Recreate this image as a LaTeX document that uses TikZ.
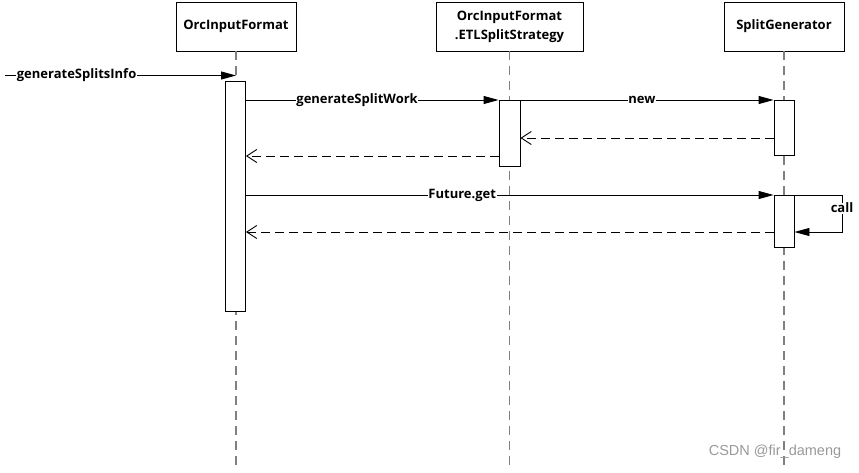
\documentclass[tikz,border=0pt]{standalone}
\usepackage{fontspec}
\setmainfont{Open Sans}
\newfontfamily\markfont{Liberation Sans}
\usepackage{tikz}
\usetikzlibrary{positioning}
\usetikzlibrary{arrows.meta,calc}

\begin{document}
\begin{tikzpicture}[x=1pt,y=-1pt,line width=0.9pt,
  font=\bfseries\fontsize{13}{19}\selectfont,
  obj/.style={draw,minimum height=49pt,align=center,inner sep=0pt},
  act/.style={draw,fill=white,minimum width=20pt,inner sep=0pt,anchor=north},
  life/.style={gray,line width=1.2pt,dash pattern=on 9pt off 6pt},
  msg/.style={-{Triangle[length=15pt,width=8pt]}},
  ret/.style={dash pattern=on 9pt off 5pt,-{Straight Barb[length=10pt,width=13pt,line width=0.9pt]}},
  lbl/.style={fill=white,inner sep=0.5pt}]
\useasboundingbox (0,0) rectangle (859,472);

% objects
\node[obj,minimum width=120pt] (oif) at (236,26.5) {OrcInputFormat};
\node[obj,minimum width=147pt] (etl) at (509.5,26.5) {OrcInputFormat\\.ETLSplitStrategy};
\node[obj,minimum width=120pt] (sg) at (784,26.5) {SplitGenerator};

% lifelines
\coordinate (bottom) at (0,470);
\draw[life] (oif.south) -- (oif.south |- bottom);
\draw[life] (etl.south) -- (etl.south |- bottom);
\draw[life] (sg.south) -- (sg.south |- bottom);

% activations
\node[act,minimum height=230pt] (a1) at (235.5,81) {};
\node[act,minimum width=21pt,minimum height=66pt] (a2) at (509.5,100) {};
\node[act,minimum height=55pt] (a3) at (784,100) {};
\node[act,minimum height=52pt] (a4) at (784,195) {};

% messages
\coordinate (start) at (5,75.5);
\draw[msg] (start) -- (oif.south |- start)
  node[lbl,pos=0.31] (m1) {generateSplitsInfo};
\draw[msg] (a1.east |- a2.north) -- (a2.north west)
  node[lbl,pos=0.44] (m2) {generateSplitWork};
\draw[msg] (a2.north east) -- (a3.north west)
  node[lbl,pos=0.48] (m3) {new};
\draw[ret] (a3.west |- 0,138) -- (a2.east |- 0,138);
\draw[ret] (a2.west |- 0,156) -- (a1.east |- 0,156);
\draw[msg] (a1.east |- a4.north) -- (a4.north west)
  node[lbl,pos=0.41] (m4) {Future.get};

% self call
\coordinate (loop) at (842,195);
\draw[msg] (a4.north east) -- (loop) -- (loop |- 0,232) -- (a4.east |- 0,232);
\node[lbl] (m5) at (842,208) {call};
\draw[ret] (a4.west |- 0,232) -- (a1.east |- 0,232);

\node[gray!80,font=\markfont\fontsize{14.5}{16}\selectfont] (mark) at (775,452) {CSDN @fir\_dameng};
\end{tikzpicture}
\end{document}
